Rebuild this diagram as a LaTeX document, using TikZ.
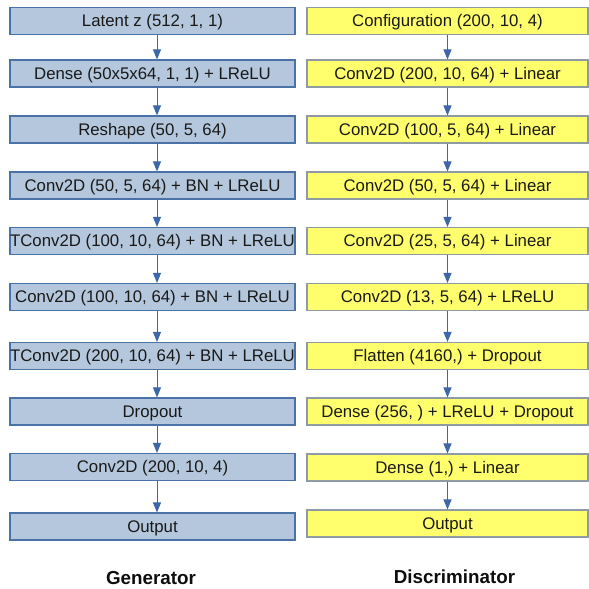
\documentclass[tikz,border=0pt]{standalone}
\usepackage{fontspec}
\setmainfont{Liberation Sans}
\usetikzlibrary{arrows.meta}
\definecolor{genfill}{HTML}{B4C7DC}
\definecolor{genline}{HTML}{4A72A8}
\definecolor{disfill}{HTML}{FFFF6D}
\definecolor{disline}{HTML}{8E9AA4}
\definecolor{arrowc}{HTML}{3D68A8}
\tikzset{
  genbox/.style={draw=genline, fill=genfill, line width=1.1bp, minimum width=285bp, minimum height=27bp, inner sep=0pt, text height=12bp, text depth=0.5bp, font=\fontsize{16.8bp}{19bp}\selectfont, text=black!90},
  disbox/.style={draw=disline, fill=disfill, line width=1.1bp, minimum width=281bp, minimum height=27bp, inner sep=0pt, text height=12bp, text depth=0.5bp, font=\fontsize{16.8bp}{19bp}\selectfont, text=black!90},
  flow/.style={draw=arrowc, line width=1bp, -{Triangle[width=8bp,length=10bp]}},
  caption/.style={font=\fontsize{18.8bp}{22bp}\selectfont\bfseries, text=black!95}
}
\begin{document}
\begin{tikzpicture}
\useasboundingbox (0,0) rectangle (589bp,-589bp);
% Generator
\node[genbox] (g1) at (152.5bp,-21bp) {Latent z (512, 1, 1)};
\node[genbox] (g2) at (152.5bp,-73.5bp) {Dense (50x5x64, 1, 1) + LReLU};
\node[genbox] (g3) at (152.5bp,-129.5bp) {Reshape (50, 5, 64)};
\node[genbox] (g4) at (152.5bp,-185.5bp) {Conv2D (50, 5, 64) + BN + LReLU};
\node[genbox] (g5) at (152.5bp,-241bp) {TConv2D (100, 10, 64) + BN + LReLU};
\node[genbox] (g6) at (152.5bp,-297bp) {Conv2D (100, 10, 64) + BN + LReLU};
\node[genbox] (g7) at (152.5bp,-356bp) {TConv2D (200, 10, 64) + BN + LReLU};
\node[genbox] (g8) at (152.5bp,-411.5bp) {Dropout};
\node[genbox] (g9) at (152.5bp,-467bp) {Conv2D (200, 10, 4)};
\node[genbox] (g10) at (152.5bp,-526.5bp) {Output};
\foreach \a/\b in {g1/g2,g2/g3,g3/g4,g4/g5,g5/g6,g6/g7,g7/g8,g8/g9,g9/g10}
  \draw[flow] ([xshift=4.5bp]\a.south) -- ([xshift=4.5bp]\b.north);
% Discriminator
\node[disbox] (d1) at (447.5bp,-21bp) {Configuration (200, 10, 4)};
\node[disbox] (d2) at (447.5bp,-73.5bp) {Conv2D (200, 10, 64) + Linear};
\node[disbox] (d3) at (447.5bp,-129.5bp) {Conv2D (100, 5, 64) + Linear};
\node[disbox] (d4) at (447.5bp,-185.5bp) {Conv2D (50, 5, 64) + Linear};
\node[disbox] (d5) at (447.5bp,-241bp) {Conv2D (25, 5, 64) + Linear};
\node[disbox] (d6) at (447.5bp,-297bp) {Conv2D (13, 5, 64) + LReLU};
\node[disbox] (d7) at (447.5bp,-356bp) {Flatten (4160,) + Dropout};
\node[disbox] (d8) at (447.5bp,-411.5bp) {Dense (256, ) + LReLU + Dropout};
\node[disbox] (d9) at (447.5bp,-467.5bp) {Dense (1,) + Linear};
\node[disbox] (d10) at (447.5bp,-523.5bp) {Output};
\foreach \a/\b in {d1/d2,d2/d3,d3/d4,d4/d5,d5/d6,d6/d7,d7/d8,d8/d9,d9/d10}
  \draw[flow] (\a.south) -- (\b.north);
% Captions
\node[caption] (gc) at (151bp,-578bp) {Generator};
\node[caption] (dc) at (454.5bp,-577bp) {Discriminator};
\end{tikzpicture}
\end{document}
